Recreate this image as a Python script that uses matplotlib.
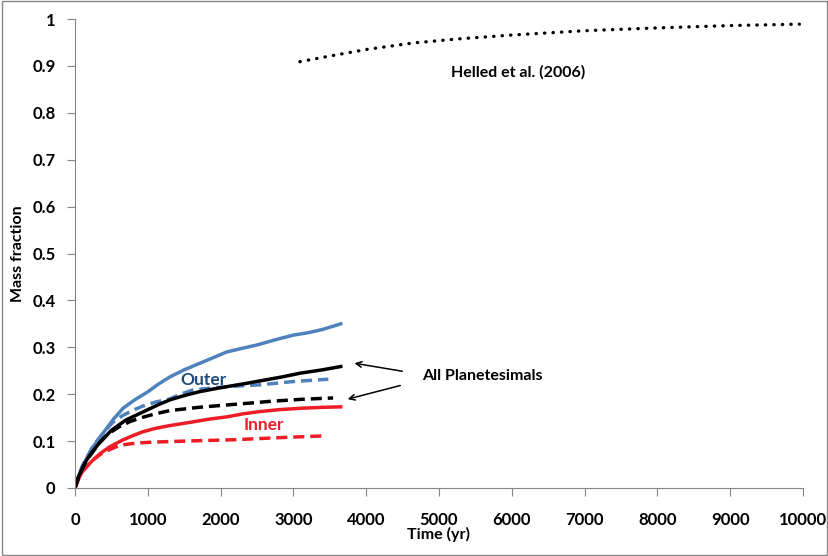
#!/usr/bin/env python3
"""mass fraction vs time"""
import matplotlib
matplotlib.use("Agg")
import matplotlib.pyplot as plt
from matplotlib.patches import Rectangle

# outer planetesimals (blue)
t_outer = [0, 50, 100, 175, 250, 400, 530, 660, 820, 1000, 1150, 1305, 1500, 1700,
           1900, 2083, 2300, 2500, 2750, 3000, 3200, 3400, 3650]
m_outer = [0, 0.025, 0.045, 0.068, 0.088, 0.12, 0.147, 0.17, 0.188, 0.205, 0.222, 0.237,
           0.252, 0.265, 0.278, 0.29, 0.298, 0.305, 0.316, 0.326, 0.331, 0.338, 0.35]
t_outer_d = [0, 50, 100, 250, 400, 520, 660, 800, 935, 1100, 1300, 1450, 1620, 1800,
             2000, 2300, 2540, 3000, 3480]
m_outer_d = [0, 0.026, 0.047, 0.09, 0.12, 0.14, 0.155, 0.166, 0.175, 0.183, 0.19, 0.2,
             0.209, 0.212, 0.215, 0.218, 0.22, 0.227, 0.232]

# all planetesimals (black)
t_all = [0, 50, 150, 240, 335, 500, 700, 850, 1000, 1150, 1305, 1500, 1700, 1900,
         2083, 2350, 2600, 2850, 3100, 3400, 3650]
m_all = [0, 0.025, 0.057, 0.078, 0.096, 0.123, 0.145, 0.156, 0.167, 0.178, 0.188, 0.197,
         0.205, 0.211, 0.216, 0.223, 0.23, 0.237, 0.245, 0.252, 0.259]
t_all_d = [0, 50, 150, 335, 450, 600, 760, 935, 1100, 1300, 1700, 2083, 2400, 2700,
           3100, 3545]
m_all_d = [0, 0.025, 0.057, 0.096, 0.115, 0.13, 0.142, 0.151, 0.158, 0.165, 0.172, 0.177,
           0.181, 0.185, 0.189, 0.192]

# inner planetesimals (red)
t_inner = [0, 50, 100, 175, 250, 350, 480, 650, 800, 935, 1100, 1300, 1620, 1850, 2100,
           2300, 2540, 2800, 3100, 3400, 3650]
m_inner = [0, 0.02, 0.035, 0.048, 0.06, 0.074, 0.088, 0.102, 0.112, 0.12, 0.127, 0.133,
           0.141, 0.147, 0.152, 0.158, 0.163, 0.167, 0.17, 0.172, 0.173]
t_inner_d = [0, 50, 100, 175, 250, 350, 450, 550, 650, 850, 1100, 1500, 2200, 2900, 3400]
m_inner_d = [0, 0.02, 0.035, 0.048, 0.06, 0.072, 0.08, 0.087, 0.092, 0.096, 0.098, 0.1,
             0.103, 0.108, 0.111]

# Helled et al. (2006)
t_helled = [3090, 3500, 4000, 4650, 5300, 6020, 7000, 8000, 9000, 9950]
m_helled = [0.909, 0.921, 0.935, 0.949, 0.958, 0.966, 0.975, 0.981, 0.986, 0.989]

blue = "#4F81BD"
red = "#EE1C25"
navy = "#1F497D"
grey = "#868686"

plt.rcParams["font.family"] = ["Lato", "DejaVu Sans"]

fig = plt.figure(figsize=(8.29, 5.56), dpi=100)
ax = fig.add_axes([75 / 829, 1 - 488 / 556, 728 / 829, 469 / 556])
fig.patches.append(Rectangle((0.002, 0.002), 0.996, 0.996, transform=fig.transFigure,
                             fill=False, edgecolor=grey, linewidth=1))

lw = 2.5
dash = (3.2, 1.7)
ax.plot(t_outer, m_outer, color=blue, lw=lw)
ax.plot(t_outer_d, m_outer_d, color=blue, lw=lw, dashes=dash)
ax.plot(t_inner, m_inner, color=red, lw=lw)
ax.plot(t_inner_d, m_inner_d, color=red, lw=lw, dashes=dash)
ax.plot(t_all, m_all, color="black", lw=lw)
ax.plot(t_all_d, m_all_d, color="black", lw=lw, dashes=dash)
ax.plot(t_helled, m_helled, color="black", lw=2.4,
        linestyle=(0, (0.1, 2.45)), dash_capstyle="round")

ax.text(6090, 0.887, "Helled et al. (2006)", ha="center", va="center",
        fontsize=11.5, fontweight="bold")
ax.text(1760, 0.231, "Outer", ha="center", va="center",
        fontsize=12.5, fontweight="bold", color=navy)
ax.text(2590, 0.134, "Inner", ha="center", va="center",
        fontsize=12.5, fontweight="bold", color=red)
ax.text(5600, 0.239, "All Planetesimals", ha="center", va="center",
        fontsize=11.5, fontweight="bold")
ax.annotate("", xy=(3801, 0.267), xytext=(4533, 0.248),
            arrowprops=dict(arrowstyle="->", color="black", lw=1.1))
ax.annotate("", xy=(3709, 0.188), xytext=(4505, 0.22),
            arrowprops=dict(arrowstyle="->", color="black", lw=1.1))

ax.set_xlim(0, 10000)
ax.set_ylim(0, 1)
ax.set_xticks(range(0, 10001, 1000))
ax.set_yticks([i / 10 for i in range(11)])
ax.set_yticklabels(["0", "0.1", "0.2", "0.3", "0.4", "0.5", "0.6", "0.7", "0.8", "0.9", "1"])
ax.tick_params(direction="out", length=6, color=grey, labelsize=12)
ax.tick_params(axis="x", pad=11)
ax.tick_params(axis="y", pad=8)
for lab in ax.get_xticklabels() + ax.get_yticklabels():
    lab.set_fontweight("bold")
for s in ["top", "right"]:
    ax.spines[s].set_visible(False)
for s in ["left", "bottom"]:
    ax.spines[s].set_color(grey)
ax.set_xlabel("Time (yr)", fontsize=11.5, fontweight="bold")
ax.set_ylabel("Mass fraction", fontsize=11.5, fontweight="bold")
ax.xaxis.set_label_coords(0.5, -(527 - 488) / 469)
ax.yaxis.set_label_coords(-(75 - 25) / 728, 0.5)

fig.savefig("out.png", dpi=100)
